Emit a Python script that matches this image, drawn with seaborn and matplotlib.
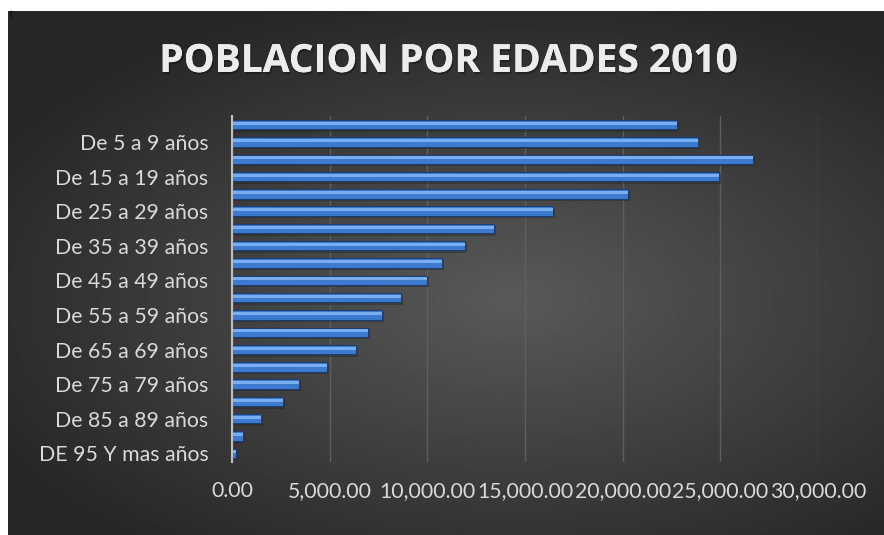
import numpy as np
import pandas as pd
import matplotlib
matplotlib.use("Agg")
import matplotlib.pyplot as plt
import matplotlib.patheffects as pe
import seaborn as sns
from matplotlib.ticker import FuncFormatter

# Data
grupos = ["De 0 a 4 años", "De 5 a 9 años", "De 10 a 14 años", "De 15 a 19 años",
          "De 20 a 24 años", "De 25 a 29 años", "De 30 a 34 años", "De 35 a 39 años",
          "De 40 a 44 años", "De 45 a 49 años", "De 50 a 54 años", "De 55 a 59 años",
          "De 60 a 64 años", "De 65 a 69 años", "De 70 a 74 años", "De 75 a 79 años",
          "De 80 a 84 años", "De 85 a 89 años", "De 90 a 94 años", "DE 95 Y mas años"]
poblacion = [22785, 23835, 26677, 24936, 20276, 16436, 13415, 11930, 10753, 9985,
             8653, 7680, 6964, 6349, 4864, 3430, 2611, 1485, 563, 205]
x_ticks = [0, 5000, 10000, 15000, 20000, 25000, 30000]
titulo = "POBLACION POR EDADES 2010"

df = pd.DataFrame({"grupo": grupos, "poblacion": poblacion})

sns.set_theme(style="white")
plt.rcParams["font.family"] = ["Lato", "DejaVu Sans"]

fig = plt.figure(figsize=(8.84, 5.35), dpi=100)
fig.patch.set_facecolor("white")

# Background with radial gradient (dark chart area)
bg = fig.add_axes([8 / 884, 0, 1 - 8 / 884, 1 - 11 / 535])
yy, xx = np.mgrid[-1:1:300j, -1:1:500j]
r = np.sqrt(((xx - 0.15) / 1.0) ** 2 + ((yy - 0.1) / 0.9) ** 2)
shade = np.clip(1 - r / 1.35, 0, 1)
bg.imshow(0.15 + 0.2 * shade, cmap="gray", vmin=0, vmax=1, aspect="auto",
          extent=[0, 1, 0, 1])
bg.set_axis_off()
fig.text(9 / 884, 1 - 11 / 535, "|", color="black", fontsize=6, va="top", ha="left")

# Main plot area
ax = fig.add_axes([232 / 884, 1 - 462 / 535, (818 - 232) / 884, (462 - 116) / 535])
ax.set_facecolor("none")

# Shadow, base bar and highlight
sns.barplot(data=df, x="poblacion", y="grupo", orient="h", ax=ax, width=0.58,
            color="#1e1e1e", alpha=0.35, saturation=1)
for p in ax.patches:
    p.set_y(p.get_y() + 0.12)
    p.set_x(p.get_x() + 80)
    p.set_linewidth(0)
n_shadow = len(ax.patches)
sns.barplot(data=df, x="poblacion", y="grupo", orient="h", ax=ax, width=0.54,
            color="#3d7bd0", saturation=1, edgecolor="#1b3f73", linewidth=0.8)
sns.barplot(data=df, x="poblacion", y="grupo", orient="h", ax=ax, width=0.17,
            color="#78adf0", saturation=1, linewidth=0)
for p in ax.patches[2 * n_shadow:]:
    p.set_y(p.get_y() - 0.08)

ax.set_xlim(0, 30000)
ax.set_ylim(len(grupos) - 0.5, -0.5)
ax.set_xticks(x_ticks)
ax.xaxis.set_major_formatter(FuncFormatter(lambda v, pos: f"{v:,.2f}"))
ax.grid(axis="x", color="#5e5e5e", linewidth=1)
ax.set_axisbelow(True)
ax.set_yticks(range(len(grupos)))
ax.set_yticklabels([g if i % 2 == 1 else "" for i, g in enumerate(grupos)])
ax.tick_params(axis="x", colors="#d9d9d9", labelsize=15.3, length=0, pad=14)
ax.tick_params(axis="y", colors="#d9d9d9", labelsize=15.3, length=0, pad=17)
ax.set_xlabel("")
ax.set_ylabel("")
for s in ["top", "right", "bottom"]:
    ax.spines[s].set_visible(False)
ax.spines["left"].set_color("#bfbfbf")
ax.spines["left"].set_linewidth(1.5)

fig.text(0.507, 1 - 72 / 535, titulo, ha="center", va="baseline", fontsize=28,
         fontweight="bold", color="#ececec", family=["Open Sans", "DejaVu Sans"],
         path_effects=[pe.withSimplePatchShadow(offset=(1, -1.5), shadow_rgbFace="black",
                                                alpha=0.3), pe.Normal()])

fig.savefig("out.png", dpi=100)
